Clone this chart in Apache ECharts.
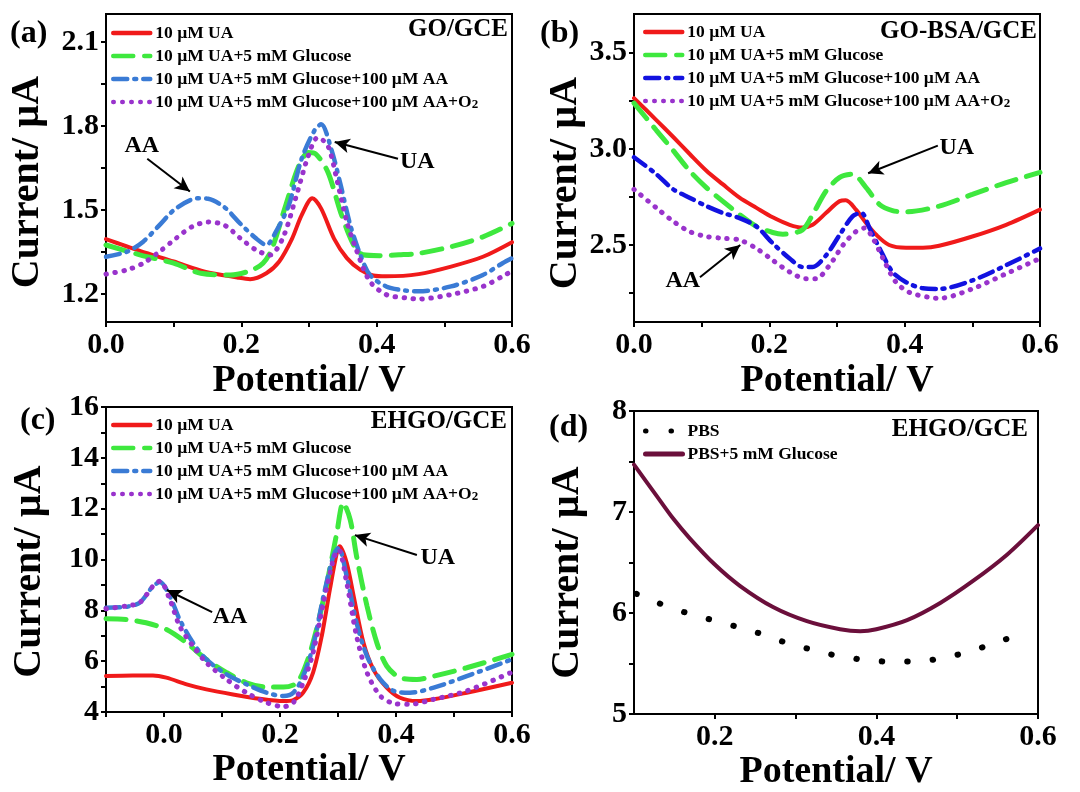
<!DOCTYPE html>
<html>
<head>
<meta charset="utf-8">
<script src="https://cdn.jsdelivr.net/npm/echarts@6/dist/echarts.min.js"></script>
<style>
  html, body { margin: 0; background: #fff; }
  #chart { width: 1080px; height: 792px; }
</style>
</head>
<body>
<div id="chart"></div>
<script>
  // legend names (same four solutions in a, b, c)
  const names = [
    '10 µM UA',
    '10 µM UA+5 mM Glucose',
    '10 µM UA+5 mM Glucose+100 µM AA',
    '10 µM UA+5 mM Glucose+100 µM AA+O2'
  ]
  const namesD = ['PBS', 'PBS+5 mM Glucose']

  // (a) GO/GCE  [potential V, current µA]
  const aUA = [[0,1.396],[0.05,1.354],[0.1,1.316],[0.146,1.28],[0.194,1.259],[0.213,1.253],[0.237,1.274],[0.256,1.316],[0.275,1.398],[0.289,1.481],[0.305,1.542],[0.318,1.505],[0.337,1.398],[0.356,1.328],[0.376,1.286],[0.395,1.266],[0.414,1.263],[0.462,1.271],[0.51,1.298],[0.557,1.333],[0.6,1.385]]
  const aGlu = [[0,1.375],[0.05,1.34],[0.1,1.31],[0.14,1.274],[0.184,1.268],[0.213,1.283],[0.232,1.31],[0.245,1.36],[0.266,1.52],[0.285,1.658],[0.299,1.705],[0.31,1.7],[0.328,1.635],[0.347,1.49],[0.366,1.375],[0.38,1.34],[0.404,1.337],[0.433,1.34],[0.462,1.345],[0.51,1.369],[0.557,1.404],[0.6,1.452]]
  const aAA = [[0,1.333],[0.031,1.351],[0.055,1.387],[0.079,1.446],[0.103,1.505],[0.136,1.542],[0.151,1.54],[0.175,1.51],[0.199,1.45],[0.222,1.398],[0.237,1.375],[0.251,1.422],[0.27,1.516],[0.289,1.682],[0.309,1.788],[0.318,1.806],[0.333,1.717],[0.347,1.587],[0.361,1.446],[0.376,1.339],[0.39,1.268],[0.414,1.227],[0.443,1.212],[0.462,1.21],[0.51,1.227],[0.557,1.268],[0.586,1.31],[0.6,1.328]]
  const aO2 = [[0,1.271],[0.031,1.286],[0.055,1.31],[0.079,1.351],[0.103,1.398],[0.127,1.44],[0.151,1.457],[0.175,1.446],[0.199,1.398],[0.222,1.357],[0.242,1.339],[0.261,1.398],[0.28,1.54],[0.299,1.694],[0.313,1.759],[0.328,1.729],[0.342,1.6],[0.356,1.457],[0.371,1.351],[0.39,1.245],[0.414,1.198],[0.443,1.186],[0.462,1.182],[0.51,1.198],[0.557,1.227],[0.586,1.263],[0.6,1.282]]

  // (b) GO-BSA/GCE
  const bUA = [[0,3.263],[0.033,3.149],[0.058,3.061],[0.082,2.974],[0.107,2.886],[0.131,2.816],[0.156,2.746],[0.181,2.693],[0.205,2.644],[0.23,2.605],[0.249,2.591],[0.264,2.605],[0.284,2.667],[0.304,2.728],[0.313,2.732],[0.328,2.684],[0.343,2.614],[0.358,2.553],[0.377,2.5],[0.402,2.486],[0.427,2.486],[0.451,2.496],[0.5,2.544],[0.55,2.605],[0.6,2.684]]
  const bGlu = [[0,3.237],[0.033,3.096],[0.058,2.991],[0.082,2.886],[0.107,2.798],[0.131,2.728],[0.156,2.658],[0.181,2.596],[0.205,2.565],[0.22,2.556],[0.249,2.579],[0.264,2.658],[0.284,2.781],[0.304,2.851],[0.323,2.868],[0.343,2.798],[0.363,2.71],[0.382,2.679],[0.402,2.672],[0.451,2.702],[0.5,2.763],[0.55,2.824],[0.6,2.877]]
  const bAA = [[0,2.956],[0.033,2.868],[0.058,2.789],[0.082,2.746],[0.107,2.702],[0.131,2.667],[0.156,2.64],[0.181,2.596],[0.205,2.509],[0.23,2.43],[0.249,2.386],[0.264,2.386],[0.284,2.447],[0.304,2.553],[0.323,2.649],[0.336,2.667],[0.348,2.588],[0.363,2.482],[0.382,2.36],[0.402,2.307],[0.427,2.275],[0.451,2.272],[0.5,2.316],[0.55,2.395],[0.6,2.482]]
  const bO2 = [[0,2.789],[0.033,2.693],[0.058,2.623],[0.082,2.57],[0.107,2.544],[0.131,2.535],[0.156,2.526],[0.181,2.482],[0.205,2.421],[0.23,2.36],[0.254,2.325],[0.269,2.325],[0.289,2.395],[0.309,2.5],[0.328,2.57],[0.341,2.588],[0.353,2.535],[0.368,2.43],[0.387,2.307],[0.407,2.254],[0.436,2.228],[0.451,2.223],[0.5,2.272],[0.55,2.351],[0.6,2.43]]

  // (c) EHGO/GCE
  const cUA = [[-0.1,5.415],[-0.054,5.44],[-0.019,5.44],[0.004,5.35],[0.039,5.09],[0.073,4.89],[0.119,4.69],[0.165,4.52],[0.206,4.43],[0.223,4.47],[0.24,4.76],[0.257,5.55],[0.272,6.99],[0.286,8.82],[0.298,10.26],[0.303,10.52],[0.315,9.87],[0.327,8.56],[0.344,6.72],[0.361,5.68],[0.384,4.96],[0.407,4.56],[0.436,4.43],[0.465,4.5],[0.522,4.76],[0.6,5.15]]
  const cGlu = [[-0.1,7.67],[-0.065,7.64],[-0.031,7.51],[0.004,7.25],[0.039,6.72],[0.073,6.07],[0.108,5.55],[0.142,5.15],[0.177,4.98],[0.206,4.98],[0.229,5.15],[0.246,5.94],[0.263,7.25],[0.281,9.08],[0.298,11.05],[0.309,12.23],[0.321,11.57],[0.332,10.13],[0.35,8.17],[0.367,6.72],[0.384,5.81],[0.407,5.35],[0.436,5.28],[0.465,5.41],[0.522,5.74],[0.6,6.27]]
  const cAA = [[-0.1,8.1],[-0.065,8.14],[-0.042,8.3],[-0.019,8.95],[-0.007,9.11],[0.01,8.56],[0.027,7.64],[0.05,6.72],[0.073,6.07],[0.108,5.48],[0.142,5.09],[0.177,4.76],[0.206,4.63],[0.223,4.76],[0.24,5.41],[0.257,6.59],[0.275,8.56],[0.292,10.13],[0.301,10.46],[0.315,9.34],[0.332,7.51],[0.35,6.2],[0.373,5.28],[0.396,4.83],[0.424,4.76],[0.465,4.96],[0.522,5.41],[0.6,6.07]]
  const cO2 = [[-0.1,8.06],[-0.065,8.17],[-0.042,8.3],[-0.019,8.95],[-0.007,9.15],[0.01,8.43],[0.027,7.38],[0.05,6.59],[0.073,5.94],[0.108,5.28],[0.142,4.76],[0.177,4.37],[0.206,4.21],[0.223,4.37],[0.24,5.15],[0.257,6.33],[0.275,8.3],[0.292,10.0],[0.301,10.39],[0.315,9.08],[0.332,6.99],[0.35,5.55],[0.373,4.63],[0.396,4.34],[0.424,4.3],[0.465,4.5],[0.522,4.83],[0.6,5.57]]

  // (d) EHGO/GCE, PBS vs PBS+glucose
  const dPBS = [[0.103,6.19],[0.13,6.1],[0.162,6.01],[0.193,5.94],[0.225,5.87],[0.255,5.8],[0.287,5.71],[0.319,5.64],[0.35,5.58],[0.382,5.54],[0.415,5.52],[0.448,5.52],[0.479,5.55],[0.511,5.61],[0.542,5.69],[0.574,5.78]]
  const dGlu = [[0.1,7.47],[0.128,7.16],[0.148,6.94],[0.169,6.74],[0.2,6.48],[0.231,6.27],[0.272,6.06],[0.314,5.92],[0.355,5.84],[0.38,5.82],[0.4,5.84],[0.438,5.93],[0.479,6.1],[0.52,6.32],[0.562,6.58],[0.6,6.87]]

  const FONT = 'Liberation Serif'
  const bold = { fontFamily: FONT, fontWeight: 'bold', color: '#000' }

  const grids = [
    { left: 106, top: 14, width: 406, height: 308 },
    { left: 634, top: 14, width: 406, height: 308 },
    { left: 106, top: 407, width: 406, height: 305 },
    { left: 634, top: 411, width: 404, height: 309 }
  ].map(g => Object.assign({ show: true, borderColor: '#000', borderWidth: 2 }, g))

  function range(a, b, s) {
    let out = []
    for (let v = a; v <= b + 1e-9; v += s) out.push(Math.round(v * 1000) / 1000)
    return out
  }

  function xAx(i, min, max, labels, ticks, gap) {
    return {
      type: 'value', gridIndex: i, min: min, max: max,
      axisLine: { onZero: false, lineStyle: { color: '#000', width: 2 } },
      axisTick: { length: 5, lineStyle: { color: '#000', width: 2 }, customValues: ticks },
      axisLabel: Object.assign({ fontSize: 30, margin: 8, customValues: labels,
        formatter: v => Math.abs(v).toFixed(1) }, bold),
      splitLine: { show: false },
      name: 'Potential/ V', nameLocation: 'middle', nameGap: gap,
      nameTextStyle: Object.assign({ fontSize: 38 }, bold)
    }
  }

  function yAx(i, min, max, labels, ticks, dec, gap, shift) {
    return {
      type: 'value', gridIndex: i, min: min, max: max,
      axisLine: { onZero: false, lineStyle: { color: '#000', width: 2 } },
      axisTick: { length: 5, lineStyle: { color: '#000', width: 2 }, customValues: ticks },
      axisLabel: Object.assign({ fontSize: 30, margin: 7, customValues: labels,
        formatter: v => v.toFixed(dec) }, bold),
      splitLine: { show: false },
      name: 'Current/ µA', nameLocation: 'middle', nameGap: gap,
      nameTextStyle: Object.assign({ fontSize: 40, padding: [0, shift, 0, 0] }, bold)
    }
  }

  function line(name, data, i, color, type, width) {
    return {
      type: 'line', name: name, data: data, xAxisIndex: i, yAxisIndex: i,
      smooth: 0.3, symbol: 'none',
      lineStyle: { color: color, width: width, type: type, cap: 'round' },
      itemStyle: { color: color }
    }
  }

  function notes(arrows, labels) {
    return {
      markLine: {
        silent: true, symbol: ['none', 'arrow'], symbolSize: [11, 15],
        lineStyle: { color: '#000', width: 2, type: 'solid' },
        label: { show: false },
        data: arrows.map(a => [{ coord: [a[0], a[1]] }, { coord: [a[2], a[3]] }])
      },
      markPoint: {
        silent: true, symbol: 'circle', symbolSize: 0,
        label: Object.assign({ show: true, position: 'inside', fontSize: 24, formatter: p => p.name }, bold),
        data: labels.map(l => ({ name: l[0], coord: [l[1], l[2]] }))
      }
    }
  }

  const RED = '#f01a1a', GREEN = '#3ee83e', BLUE = '#3a7bd5', DBLUE = '#1212e0', PURPLE = '#9933cc'
  const DASH = [20, 11], DASHDOT = [14, 7, 2, 7], DOT = [0.5, 8.5]

  function four(tag, i, sets, blue) {
    return [
      line(names[0] + '#' + tag, sets[0], i, RED, 'solid', 4),
      line(names[1] + '#' + tag, sets[1], i, GREEN, DASH, 5),
      line(names[2] + '#' + tag, sets[2], i, blue, DASHDOT, 4.5),
      line(names[3] + '#' + tag, sets[3], i, PURPLE, DOT, 5)
    ]
  }

  const sA = four('a', 0, [aUA, aGlu, aAA, aO2], BLUE)
  Object.assign(sA[0], notes([[0.061, 1.683, 0.124, 1.566], [0.4315, 1.683, 0.338, 1.743]],
    [['AA', 0.053, 1.73], ['UA', 0.46, 1.672]]))
  const sB = four('b', 1, [bUA, bGlu, bAA, bO2], DBLUE)
  Object.assign(sB[0], notes([[0.449, 3.016, 0.346, 2.873], [0.0975, 2.332, 0.157, 2.5]],
    [['UA', 0.477, 3.005], ['AA', 0.072, 2.316]]))
  const sC = four('c', 2, [cUA, cGlu, cAA, cO2], BLUE)
  Object.assign(sC[0], notes([[0.436, 10.18, 0.329, 10.96], [0.083, 7.93, 0.005, 8.8]],
    [['UA', 0.472, 10.06], ['AA', 0.114, 7.74]]))
  const sD = [
    line(namesD[0], dPBS, 3, '#000', [0.5, 25], 6),
    line(namesD[1], dGlu, 3, '#6b0f3b', 'solid', 4)
  ]

  const legendText = Object.assign({
    fontSize: 17.5, lineHeight: 18,
    rich: { sub: Object.assign({ fontSize: 13, lineHeight: 6, verticalAlign: 'bottom' }, bold) }
  }, bold)

  function legend(tag, left, top, list) {
    return {
      orient: 'vertical', left: left, top: top, itemWidth: 37, itemHeight: 18, itemGap: 5,
      selectedMode: false, data: list.map(n => tag ? n + '#' + tag : n),
      itemStyle: { opacity: 0 },
      lineStyle: { width: tag ? 4.5 : 5 },
      textStyle: legendText,
      formatter: n => {
        const s = n.split('#')[0]
        return s.endsWith('O2') ? s.slice(0, -1) + '{sub|2}' : s
      }
    }
  }

  const titles = [
    ['(a)', 10, 18], ['(b)', 540, 18], ['(c)', 20, 405], ['(d)', 549, 412]
  ].map(t => ({ text: t[0], left: t[1], top: t[2], padding: 0, textStyle: Object.assign({ fontSize: 32 }, bold) }))
    .concat([
      ['GO/GCE', 572, 17], ['GO-BSA/GCE', 43, 19], ['EHGO/GCE', 573, 409], ['EHGO/GCE', 52, 417]
    ].map(t => ({ text: t[0], right: t[1], top: t[2], padding: 0, textStyle: Object.assign({ fontSize: 25 }, bold) })))

  const chart = echarts.init(document.getElementById('chart'))
  chart.setOption({
    animation: false,
    backgroundColor: '#fff',
    textStyle: { fontFamily: FONT },
    title: titles,
    grid: grids,
    legend: [
      legend('a', 106, 19, names),
      legend('b', 638, 18, names),
      legend('c', 106, 411, names),
      legend(null, 638, 417, namesD)
    ],
    xAxis: [
      xAx(0, 0, 0.6, [0, 0.2, 0.4, 0.6], range(0, 0.6, 0.1), 40),
      xAx(1, 0, 0.6, [0, 0.2, 0.4, 0.6], range(0, 0.6, 0.1), 40),
      xAx(2, -0.1, 0.6, [0, 0.2, 0.4, 0.6], range(-0.1, 0.6, 0.1), 30),
      xAx(3, 0.1, 0.6, [0.2, 0.4, 0.6], range(0.2, 0.6, 0.1), 38)
    ],
    yAxis: [
      yAx(0, 1.1, 2.2, [1.2, 1.5, 1.8, 2.1], range(1.2, 2.1, 0.15), 1, 58, 28),
      yAx(1, 2.1, 3.7, [2.5, 3.0, 3.5], range(2.25, 3.5, 0.25), 1, 48, 30),
      yAx(2, 4, 16, range(4, 16, 2), range(4, 16, 1), 0, 56, 24),
      yAx(3, 5, 8, [5, 6, 7, 8], range(5, 8, 0.5), 0, 46, 20)
    ],
    series: sA.concat(sB, sC, sD)
  })
</script>
</body>
</html>
